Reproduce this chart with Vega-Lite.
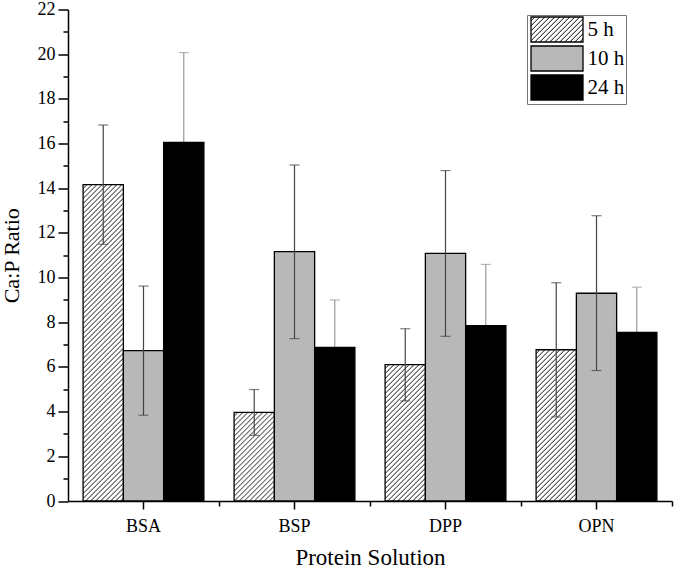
{
"$schema":"https://vega.github.io/schema/vega-lite/v6.json",
"width":604,"height":491.5,
"autosize":{"type":"none"},
"padding":{"left":68,"top":9.5,"right":3,"bottom":69},
"background":"white",
"config":{"font":"Liberation Serif","view":{"stroke":null},
"axis":{"labelFont":"Liberation Serif","titleFont":"Liberation Serif","labelColor":"black","titleColor":"black","titleFontWeight":"normal","domainColor":"black","tickColor":"black","grid":false}},
"params":[{"name":"hs","value":[
{"offset":0,"color":"#fff"},{"offset":0.005,"color":"#fff"},{"offset":0.008,"color":"#444"},
{"offset":0.01,"color":"#fff"},{"offset":0.015,"color":"#fff"},{"offset":0.018,"color":"#444"},
{"offset":0.02,"color":"#fff"},{"offset":0.025,"color":"#fff"},{"offset":0.028,"color":"#444"},
{"offset":0.03,"color":"#fff"},{"offset":0.035,"color":"#fff"},{"offset":0.038,"color":"#444"},
{"offset":0.04,"color":"#fff"},{"offset":0.045,"color":"#fff"},{"offset":0.048,"color":"#444"},
{"offset":0.05,"color":"#fff"},{"offset":0.055,"color":"#fff"},{"offset":0.058,"color":"#444"},
{"offset":0.06,"color":"#fff"},{"offset":0.065,"color":"#fff"},{"offset":0.068,"color":"#444"},
{"offset":0.07,"color":"#fff"},{"offset":0.075,"color":"#fff"},{"offset":0.078,"color":"#444"},
{"offset":0.08,"color":"#fff"},{"offset":0.085,"color":"#fff"},{"offset":0.088,"color":"#444"},
{"offset":0.09,"color":"#fff"},{"offset":0.095,"color":"#fff"},{"offset":0.098,"color":"#444"},
{"offset":0.1,"color":"#fff"},{"offset":0.105,"color":"#fff"},{"offset":0.108,"color":"#444"},
{"offset":0.11,"color":"#fff"},{"offset":0.115,"color":"#fff"},{"offset":0.118,"color":"#444"},
{"offset":0.12,"color":"#fff"},{"offset":0.125,"color":"#fff"},{"offset":0.128,"color":"#444"},
{"offset":0.13,"color":"#fff"},{"offset":0.135,"color":"#fff"},{"offset":0.138,"color":"#444"},
{"offset":0.14,"color":"#fff"},{"offset":0.145,"color":"#fff"},{"offset":0.148,"color":"#444"},
{"offset":0.15,"color":"#fff"},{"offset":0.155,"color":"#fff"},{"offset":0.158,"color":"#444"},
{"offset":0.16,"color":"#fff"},{"offset":0.165,"color":"#fff"},{"offset":0.168,"color":"#444"},
{"offset":0.17,"color":"#fff"},{"offset":0.175,"color":"#fff"},{"offset":0.178,"color":"#444"},
{"offset":0.18,"color":"#fff"},{"offset":0.185,"color":"#fff"},{"offset":0.188,"color":"#444"},
{"offset":0.19,"color":"#fff"},{"offset":0.195,"color":"#fff"},{"offset":0.198,"color":"#444"},
{"offset":0.2,"color":"#fff"},{"offset":0.205,"color":"#fff"},{"offset":0.208,"color":"#444"},
{"offset":0.21,"color":"#fff"},{"offset":0.215,"color":"#fff"},{"offset":0.218,"color":"#444"},
{"offset":0.22,"color":"#fff"},{"offset":0.225,"color":"#fff"},{"offset":0.228,"color":"#444"},
{"offset":0.23,"color":"#fff"},{"offset":0.235,"color":"#fff"},{"offset":0.238,"color":"#444"},
{"offset":0.24,"color":"#fff"},{"offset":0.245,"color":"#fff"},{"offset":0.248,"color":"#444"},
{"offset":0.25,"color":"#fff"},{"offset":0.255,"color":"#fff"},{"offset":0.258,"color":"#444"},
{"offset":0.26,"color":"#fff"},{"offset":0.265,"color":"#fff"},{"offset":0.268,"color":"#444"},
{"offset":0.27,"color":"#fff"},{"offset":0.275,"color":"#fff"},{"offset":0.278,"color":"#444"},
{"offset":0.28,"color":"#fff"},{"offset":0.285,"color":"#fff"},{"offset":0.288,"color":"#444"},
{"offset":0.29,"color":"#fff"},{"offset":0.295,"color":"#fff"},{"offset":0.298,"color":"#444"},
{"offset":0.3,"color":"#fff"},{"offset":0.305,"color":"#fff"},{"offset":0.308,"color":"#444"},
{"offset":0.31,"color":"#fff"},{"offset":0.315,"color":"#fff"},{"offset":0.318,"color":"#444"},
{"offset":0.32,"color":"#fff"},{"offset":0.325,"color":"#fff"},{"offset":0.328,"color":"#444"},
{"offset":0.33,"color":"#fff"},{"offset":0.335,"color":"#fff"},{"offset":0.338,"color":"#444"},
{"offset":0.34,"color":"#fff"},{"offset":0.345,"color":"#fff"},{"offset":0.348,"color":"#444"},
{"offset":0.35,"color":"#fff"},{"offset":0.355,"color":"#fff"},{"offset":0.358,"color":"#444"},
{"offset":0.36,"color":"#fff"},{"offset":0.365,"color":"#fff"},{"offset":0.368,"color":"#444"},
{"offset":0.37,"color":"#fff"},{"offset":0.375,"color":"#fff"},{"offset":0.378,"color":"#444"},
{"offset":0.38,"color":"#fff"},{"offset":0.385,"color":"#fff"},{"offset":0.388,"color":"#444"},
{"offset":0.39,"color":"#fff"},{"offset":0.395,"color":"#fff"},{"offset":0.398,"color":"#444"},
{"offset":0.4,"color":"#fff"},{"offset":0.405,"color":"#fff"},{"offset":0.408,"color":"#444"},
{"offset":0.41,"color":"#fff"},{"offset":0.415,"color":"#fff"},{"offset":0.418,"color":"#444"},
{"offset":0.42,"color":"#fff"},{"offset":0.425,"color":"#fff"},{"offset":0.428,"color":"#444"},
{"offset":0.43,"color":"#fff"},{"offset":0.435,"color":"#fff"},{"offset":0.438,"color":"#444"},
{"offset":0.44,"color":"#fff"},{"offset":0.445,"color":"#fff"},{"offset":0.448,"color":"#444"},
{"offset":0.45,"color":"#fff"},{"offset":0.455,"color":"#fff"},{"offset":0.458,"color":"#444"},
{"offset":0.46,"color":"#fff"},{"offset":0.465,"color":"#fff"},{"offset":0.468,"color":"#444"},
{"offset":0.47,"color":"#fff"},{"offset":0.475,"color":"#fff"},{"offset":0.478,"color":"#444"},
{"offset":0.48,"color":"#fff"},{"offset":0.485,"color":"#fff"},{"offset":0.488,"color":"#444"},
{"offset":0.49,"color":"#fff"},{"offset":0.495,"color":"#fff"},{"offset":0.498,"color":"#444"},
{"offset":0.5,"color":"#fff"},{"offset":0.505,"color":"#fff"},{"offset":0.508,"color":"#444"},
{"offset":0.51,"color":"#fff"},{"offset":0.515,"color":"#fff"},{"offset":0.518,"color":"#444"},
{"offset":0.52,"color":"#fff"},{"offset":0.525,"color":"#fff"},{"offset":0.528,"color":"#444"},
{"offset":0.53,"color":"#fff"},{"offset":0.535,"color":"#fff"},{"offset":0.538,"color":"#444"},
{"offset":0.54,"color":"#fff"},{"offset":0.545,"color":"#fff"},{"offset":0.548,"color":"#444"},
{"offset":0.55,"color":"#fff"},{"offset":0.555,"color":"#fff"},{"offset":0.558,"color":"#444"},
{"offset":0.56,"color":"#fff"},{"offset":0.565,"color":"#fff"},{"offset":0.568,"color":"#444"},
{"offset":0.57,"color":"#fff"},{"offset":0.575,"color":"#fff"},{"offset":0.578,"color":"#444"},
{"offset":0.58,"color":"#fff"},{"offset":0.585,"color":"#fff"},{"offset":0.588,"color":"#444"},
{"offset":0.59,"color":"#fff"},{"offset":0.595,"color":"#fff"},{"offset":0.598,"color":"#444"},
{"offset":0.6,"color":"#fff"},{"offset":0.605,"color":"#fff"},{"offset":0.608,"color":"#444"},
{"offset":0.61,"color":"#fff"},{"offset":0.615,"color":"#fff"},{"offset":0.618,"color":"#444"},
{"offset":0.62,"color":"#fff"},{"offset":0.625,"color":"#fff"},{"offset":0.628,"color":"#444"},
{"offset":0.63,"color":"#fff"},{"offset":0.635,"color":"#fff"},{"offset":0.638,"color":"#444"},
{"offset":0.64,"color":"#fff"},{"offset":0.645,"color":"#fff"},{"offset":0.648,"color":"#444"},
{"offset":0.65,"color":"#fff"},{"offset":0.655,"color":"#fff"},{"offset":0.658,"color":"#444"},
{"offset":0.66,"color":"#fff"},{"offset":0.665,"color":"#fff"},{"offset":0.668,"color":"#444"},
{"offset":0.67,"color":"#fff"},{"offset":0.675,"color":"#fff"},{"offset":0.678,"color":"#444"},
{"offset":0.68,"color":"#fff"},{"offset":0.685,"color":"#fff"},{"offset":0.688,"color":"#444"},
{"offset":0.69,"color":"#fff"},{"offset":0.695,"color":"#fff"},{"offset":0.698,"color":"#444"},
{"offset":0.7,"color":"#fff"},{"offset":0.705,"color":"#fff"},{"offset":0.708,"color":"#444"},
{"offset":0.71,"color":"#fff"},{"offset":0.715,"color":"#fff"},{"offset":0.718,"color":"#444"},
{"offset":0.72,"color":"#fff"}
]}],
"data":{"values":[
{"protein":"BSA","time":"5 h","ratio":14.16,"lo":11.49,"hi":16.83},
{"protein":"BSA","time":"10 h","ratio":6.73,"lo":3.84,"hi":9.62},
{"protein":"BSA","time":"24 h","ratio":16.05,"lo":12.03,"hi":20.07},
{"protein":"BSP","time":"5 h","ratio":3.97,"lo":2.94,"hi":4.99},
{"protein":"BSP","time":"10 h","ratio":11.16,"lo":7.27,"hi":15.04},
{"protein":"BSP","time":"24 h","ratio":6.88,"lo":4.76,"hi":9.0},
{"protein":"DPP","time":"5 h","ratio":6.1,"lo":4.48,"hi":7.71},
{"protein":"DPP","time":"10 h","ratio":11.08,"lo":7.37,"hi":14.79},
{"protein":"DPP","time":"24 h","ratio":7.85,"lo":5.11,"hi":10.59},
{"protein":"OPN","time":"5 h","ratio":6.77,"lo":3.76,"hi":9.77},
{"protein":"OPN","time":"10 h","ratio":9.3,"lo":5.84,"hi":12.77},
{"protein":"OPN","time":"24 h","ratio":7.55,"lo":5.53,"hi":9.57}
]},
"resolve":{"axis":{"x":"independent","y":"independent"}},
"layer":[
{"transform":[{"filter":"datum.time === '24 h'"}],
 "mark":{"type":"rule","color":"#999","strokeWidth":1.2},
 "encoding":{
  "x":{"field":"protein","type":"nominal","scale":{"paddingInner":0.2,"paddingOuter":0.1},
   "axis":{"orient":"bottom","bandPosition":1.125,"domain":false,"labels":false,"tickSize":5,"tickWidth":1.5,"title":null}},
  "xOffset":{"field":"time","type":"nominal","sort":["5 h","10 h","24 h"],"scale":{"paddingInner":0,"paddingOuter":0}},
  "y":{"field":"lo","type":"quantitative","scale":{"domain":[0,22],"nice":false},
   "axis":{"orient":"left","values":[1,3,5,7,9,11,13,15,17,19,21],"domain":false,"labels":false,"tickSize":5,"tickWidth":1.5,"title":null}},
  "y2":{"field":"hi"}}},
{"transform":[{"filter":"datum.time === '24 h'"}],
 "mark":{"type":"tick","color":"#999","size":10,"thickness":1.2},
 "encoding":{
  "x":{"field":"protein","type":"nominal","axis":null},
  "xOffset":{"field":"time","type":"nominal","sort":["5 h","10 h","24 h"]},
  "y":{"field":"hi","type":"quantitative","axis":null}}},
{"mark":{"type":"bar","stroke":"black","strokeWidth":1.3},
 "encoding":{
  "x":{"field":"protein","type":"nominal",
   "axis":{"orient":"bottom","title":"Protein Solution","labelAngle":0,"tickSize":8,"tickWidth":1.5,"domainWidth":1.5,"labelFontSize":18,"labelPadding":8,"titleFontSize":23,"titlePadding":11}},
  "xOffset":{"field":"time","type":"nominal","sort":["5 h","10 h","24 h"]},
  "y":{"field":"ratio","type":"quantitative",
   "axis":{"orient":"left","title":"Ca:P Ratio","values":[0,2,4,6,8,10,12,14,16,18,20,22],
    "tickSize":10,"tickWidth":1.5,"domainWidth":1.5,"labelFontSize":18,"labelPadding":3,"titleFontSize":22,"titlePadding":14}},
  "fill":{
   "condition":[
    {"test":"datum.protein === 'BSA' && datum.time === '5 h'","value":{"expr":"{gradient:'linear',x1:0,y1:0,x2:0.19799,y2:1.55533,stops:hs}"}},
    {"test":"datum.protein === 'BSP' && datum.time === '5 h'","value":{"expr":"{gradient:'linear',x1:0,y1:0,x2:2.1223,y2:4.674,stops:hs}"}},
    {"test":"datum.protein === 'DPP' && datum.time === '5 h'","value":{"expr":"{gradient:'linear',x1:0,y1:0,x2:0.99708,y2:3.3743,stops:hs}"}},
    {"test":"datum.protein === 'OPN' && datum.time === '5 h'","value":{"expr":"{gradient:'linear',x1:0,y1:0,x2:0.8219,y2:3.087,stops:hs}"}}
   ],
   "field":"time","type":"nominal","sort":["5 h","10 h","24 h"],
   "scale":{"domain":["5 h","10 h","24 h"],"range":[{"expr":"{gradient:'linear',x1:0,y1:0,x2:7.81,y2:3.755,stops:hs}"},"#b8b8b8","black"]},
   "legend":{"title":null,"orient":"none","legendX":459,"legendY":5.5,
    "symbolType":"M-2.08,-1H2.08V1H-2.08Z","symbolSize":625,
    "symbolStrokeColor":"black","symbolStrokeWidth":1.3,"symbolOffset":15.5,
    "labelFont":"Liberation Serif","labelFontSize":21,"labelColor":"black","labelOffset":17,
    "strokeColor":"#777","padding":1,"rowPadding":-5.5}}}},
{"transform":[{"filter":"datum.time !== '24 h'"}],
 "mark":{"type":"rule","color":"#444","strokeWidth":1.2},
 "encoding":{
  "x":{"field":"protein","type":"nominal","axis":null},
  "xOffset":{"field":"time","type":"nominal","sort":["5 h","10 h","24 h"]},
  "y":{"field":"lo","type":"quantitative","axis":null},
  "y2":{"field":"hi"}}},
{"transform":[{"filter":"datum.time !== '24 h'"}],
 "mark":{"type":"tick","color":"#444","size":10,"thickness":1.2},
 "encoding":{
  "x":{"field":"protein","type":"nominal","axis":null},
  "xOffset":{"field":"time","type":"nominal","sort":["5 h","10 h","24 h"]},
  "y":{"field":"lo","type":"quantitative","axis":null}}},
{"transform":[{"filter":"datum.time !== '24 h'"}],
 "mark":{"type":"tick","color":"#444","size":10,"thickness":1.2},
 "encoding":{
  "x":{"field":"protein","type":"nominal","axis":null},
  "xOffset":{"field":"time","type":"nominal","sort":["5 h","10 h","24 h"]},
  "y":{"field":"hi","type":"quantitative","axis":null}}}
]
}
